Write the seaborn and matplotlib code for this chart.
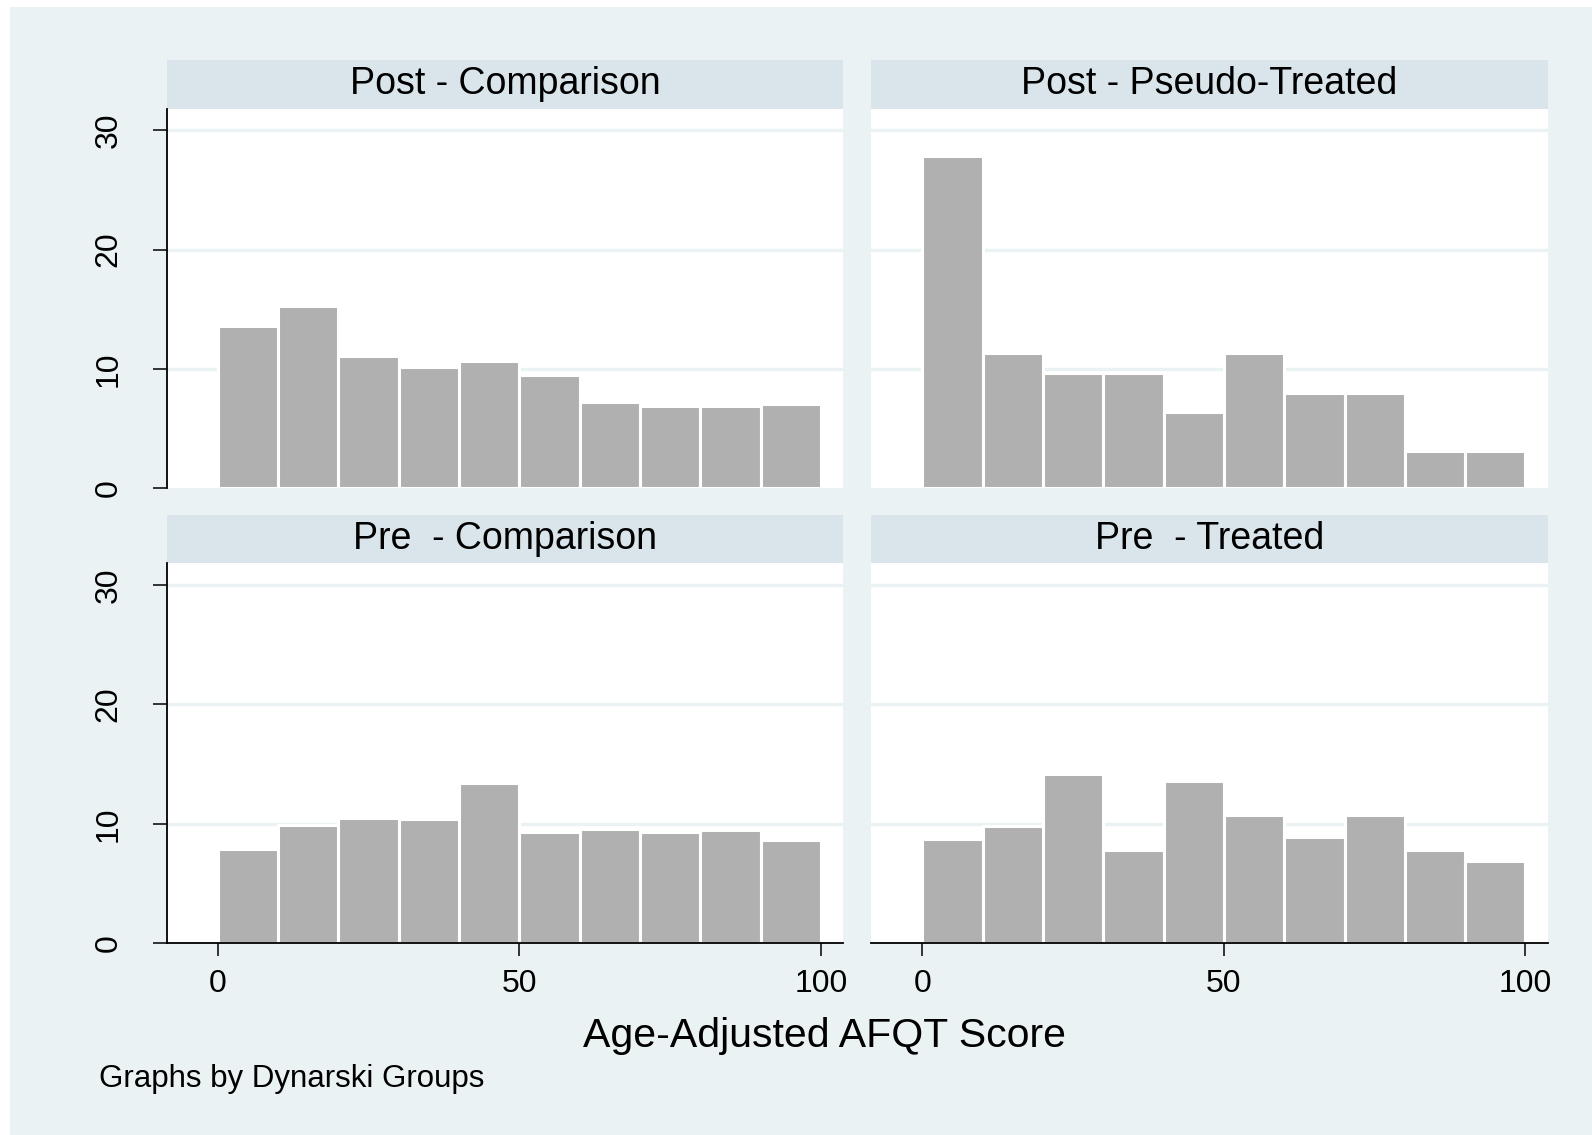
import numpy as np
import pandas as pd
import matplotlib
matplotlib.use("Agg")
import matplotlib.pyplot as plt
import seaborn as sns
from matplotlib.patches import Rectangle

# Histogram bins (Age-Adjusted AFQT score) and percent of each group per bin
bin_edges = [0, 10, 20, 30, 40, 50, 60, 70, 80, 90, 100]
panel_titles = ["Post - Comparison", "Post - Pseudo-Treated",
                "Pre  - Comparison", "Pre  - Treated"]
post_comparison = [13.6, 15.3, 11.1, 10.2, 10.7, 9.5, 7.2, 6.9, 6.9, 7.1]
post_pseudo_treated = [27.8, 11.3, 9.7, 9.7, 6.4, 11.3, 8.0, 8.0, 3.1, 3.1]
pre_comparison = [7.9, 9.9, 10.5, 10.4, 13.4, 9.3, 9.6, 9.3, 9.5, 8.6]
pre_treated = [8.7, 9.8, 14.2, 7.8, 13.6, 10.7, 8.9, 10.7, 7.8, 6.9]
y_ticks = [0, 10, 20, 30]
x_ticks = [0, 50, 100]
x_label = "Age-Adjusted AFQT Score"
note = "Graphs by Dynarski Groups"

series = [post_comparison, post_pseudo_treated, pre_comparison, pre_treated]
mids = [(a + b) / 2 for a, b in zip(bin_edges[:-1], bin_edges[1:])]
df = pd.concat(
    [pd.DataFrame({"score": mids, "percent": vals, "group": title})
     for title, vals in zip(panel_titles, series)],
    ignore_index=True,
)

sns.set_theme(style="white")
plt.rcParams["font.family"] = ["Liberation Sans", "DejaVu Sans"]
plt.rcParams["text.color"] = "black"
plt.rcParams["xtick.color"] = "black"
plt.rcParams["ytick.color"] = "black"
plt.rcParams["axes.labelcolor"] = "black"

BG = "#EAF2F3"
STRIP = "#D9E5EB"
BAR = "#B0B0B0"

fig = plt.figure(figsize=(15.92, 11.35), dpi=100)
fig.patch.set_facecolor("white")
fig.add_artist(Rectangle((10 / 1592, 0), 1, 1 - 7 / 1135, transform=fig.transFigure,
                         facecolor=BG, edgecolor="none", zorder=-10))

lefts = [0.1046, 0.5472]
bottoms = [0.5697, 0.1690]
w, h = 0.4250, 0.3346
strip_h = 0.128

for i, title in enumerate(panel_titles):
    row, col = divmod(i, 2)
    ax = fig.add_axes([lefts[col], bottoms[row], w, h])
    ax.set_facecolor("white")
    for yv in y_ticks[1:]:
        ax.axhline(yv, color=BG, linewidth=2.4, zorder=0)
    sub = df[df["group"] == title]
    sns.histplot(data=sub, x="score", weights="percent", bins=bin_edges,
                 color=BAR, edgecolor="white", linewidth=2.2, alpha=1,
                 ax=ax, zorder=2)
    ax.set_xlim(-8.5, 103.7)
    ax.set_ylim(0, 31.8)
    ax.set_xlabel("")
    ax.set_ylabel("")
    for s in ["top", "right"]:
        ax.spines[s].set_visible(False)
    ax.spines["left"].set_visible(col == 0)
    ax.spines["bottom"].set_visible(row == 1)
    for s in ["left", "bottom"]:
        ax.spines[s].set_color("black")
        ax.spines[s].set_linewidth(1.3)
    ax.set_yticks(y_ticks)
    ax.set_xticks(x_ticks)
    if col == 0:
        ax.tick_params(axis="y", left=True, length=10, width=1.1, color="black",
                       labelsize=23, pad=21, labelcolor="black")
        for lab in ax.get_yticklabels():
            lab.set_rotation(90)
            lab.set_va("center")
    else:
        ax.tick_params(axis="y", left=False, labelleft=False)
    if row == 1:
        ax.tick_params(axis="x", bottom=True, length=9.5, width=1.1, color="black",
                       labelsize=23, pad=9, labelcolor="black")
    else:
        ax.tick_params(axis="x", bottom=False, labelbottom=False)
    ax.add_patch(Rectangle((0, 1), 1, strip_h, transform=ax.transAxes,
                           facecolor=STRIP, edgecolor="none", clip_on=False))
    ax.text(0.5, 1 + strip_h / 2, title, transform=ax.transAxes,
            ha="center", va="center", fontsize=27, color="black")

fig.text(0.5178, 0.0876, x_label, ha="center", va="center", fontsize=29.5,
         color="black")
fig.text(0.0619, 0.0493, note, ha="left", va="center", fontsize=22.5,
         color="black")

fig.savefig("out.png", dpi=100, facecolor=fig.get_facecolor())
